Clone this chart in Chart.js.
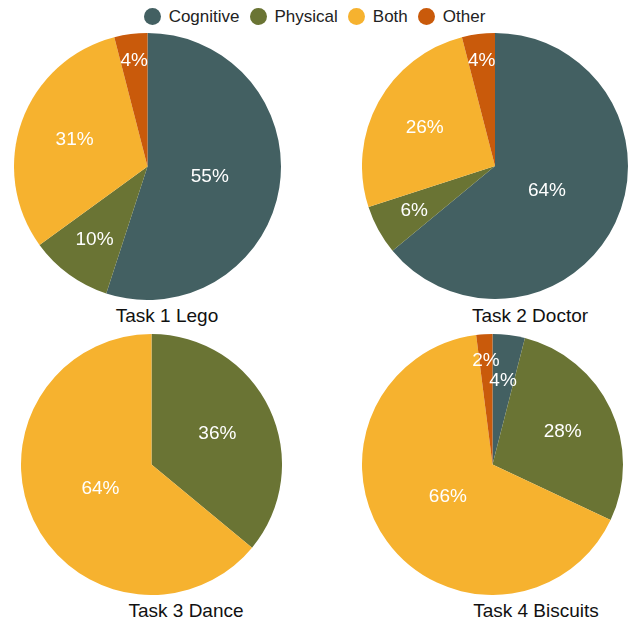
<!DOCTYPE html>
<html lang="en">
<head>
    <meta charset="UTF-8">
    <title>Task pies</title>
    <script src="https://cdn.jsdelivr.net/npm/chart.js@4.4.0/dist/chart.umd.min.js"></script>
    <style>
        body {
            margin: 0;
            width: 629px;
            height: 625px;
            position: relative;
            background: #fff;
            font-family: "Liberation Sans", Arial, Helvetica, sans-serif;
            overflow: hidden;
        }
        .legend {
            position: absolute;
            top: 7px;
            left: 0;
            width: 629px;
            text-align: center;
            font-size: 17px;
            color: #222;
        }
        .legend span.item {
            display: inline-block;
            margin: 0 5px;
        }
        .legend i {
            display: inline-block;
            width: 17px;
            height: 17px;
            border-radius: 50%;
            vertical-align: -3px;
            margin-right: 8px;
        }
        .pie {
            position: absolute;
        }
        .title {
            position: absolute;
            font-size: 19px;
            color: #111;
            transform: translateX(-50%);
            white-space: nowrap;
        }
    </style>
</head>
<body>
    <div class="legend" id="legend"></div>

    <div class="pie" style="left:14px; top:33px; width:267px; height:267px;"><canvas id="c0"></canvas></div>
    <div class="pie" style="left:362px; top:33px; width:266px; height:266px;"><canvas id="c1"></canvas></div>
    <div class="pie" style="left:21px; top:334px; width:261px; height:261px;"><canvas id="c2"></canvas></div>
    <div class="pie" style="left:362px; top:334px; width:261px; height:261px;"><canvas id="c3"></canvas></div>

    <div class="title" style="left:167px; top:305px;">Task 1 Lego</div>
    <div class="title" style="left:530px; top:305px;">Task 2 Doctor</div>
    <div class="title" style="left:186px; top:600px;">Task 3 Dance</div>
    <div class="title" style="left:536px; top:600px;">Task 4 Biscuits</div>

    <script>
        // categories and colours
        var categories = ['Cognitive', 'Physical', 'Both', 'Other'];
        var colors = ['#436062', '#6a7434', '#f6b22f', '#c95a0b'];

        // percentage per task (same order as categories)
        var task1Lego = [55, 10, 31, 4];
        var task2Doctor = [64, 6, 26, 4];
        var task3Dance = [0, 36, 64, 0];
        var task4Biscuits = [4, 28, 66, 2];

        var tasks = [task1Lego, task2Doctor, task3Dance, task4Biscuits];

        // html legend
        var legend = document.getElementById('legend');
        categories.forEach(function(name, i) {
            var el = document.createElement('span');
            el.className = 'item';
            el.innerHTML = '<i style="background:' + colors[i] + '"></i>' + name;
            legend.appendChild(el);
        });

        // draws the percentage inside each slice, small slices first,
        // larger ones pushed toward the centre if they collide
        var sliceLabels = {
            id: 'sliceLabels',
            afterDatasetsDraw: function(chart) {
                var ctx = chart.ctx;
                var meta = chart.getDatasetMeta(0);
                var data = chart.data.datasets[0].data;
                var total = data.reduce(function(a, b) { return a + b; }, 0);
                ctx.save();
                ctx.fillStyle = '#fff';
                ctx.font = '19px "Liberation Sans", Arial, sans-serif';
                ctx.textAlign = 'center';
                ctx.textBaseline = 'middle';

                var order = data.map(function(v, i) { return i; })
                    .filter(function(i) { return data[i] > 0; })
                    .sort(function(a, b) { return data[a] - data[b]; });
                var placed = [];
                order.forEach(function(i) {
                    var v = data[i];
                    var text = v + '%';
                    var p = meta.data[i].getProps(['x', 'y', 'startAngle', 'endAngle', 'outerRadius'], true);
                    var mid = (p.startAngle + p.endAngle) / 2;
                    var f = v / total;
                    var k = f < 0.05 ? 0.8 : 0.72 - 0.45 * f;
                    var w = ctx.measureText(text).width + 2, h = 20;
                    var x, y;
                    for (var step = 0; step < 40; step++) {
                        var d = p.outerRadius * k - step * 2;
                        x = p.x + Math.cos(mid) * d;
                        y = p.y + Math.sin(mid) * d;
                        var hit = placed.some(function(b) {
                            return Math.abs(b.x - x) < (b.w + w) / 2 && Math.abs(b.y - y) < (b.h + h) / 2;
                        });
                        if (!hit) break;
                    }
                    placed.push({ x: x, y: y, w: w, h: h });
                    ctx.fillText(text, x, y);
                });
                ctx.restore();
            }
        };

        tasks.forEach(function(values, i) {
            new Chart(document.getElementById('c' + i), {
                type: 'pie',
                data: {
                    labels: categories,
                    datasets: [{
                        data: values,
                        backgroundColor: colors,
                        borderWidth: 0
                    }]
                },
                options: {
                    responsive: true,
                    maintainAspectRatio: false,
                    animation: false,
                    layout: { padding: 0 },
                    plugins: {
                        legend: { display: false },
                        tooltip: { enabled: false }
                    }
                },
                plugins: [sliceLabels]
            });
        });
    </script>
</body>
</html>
